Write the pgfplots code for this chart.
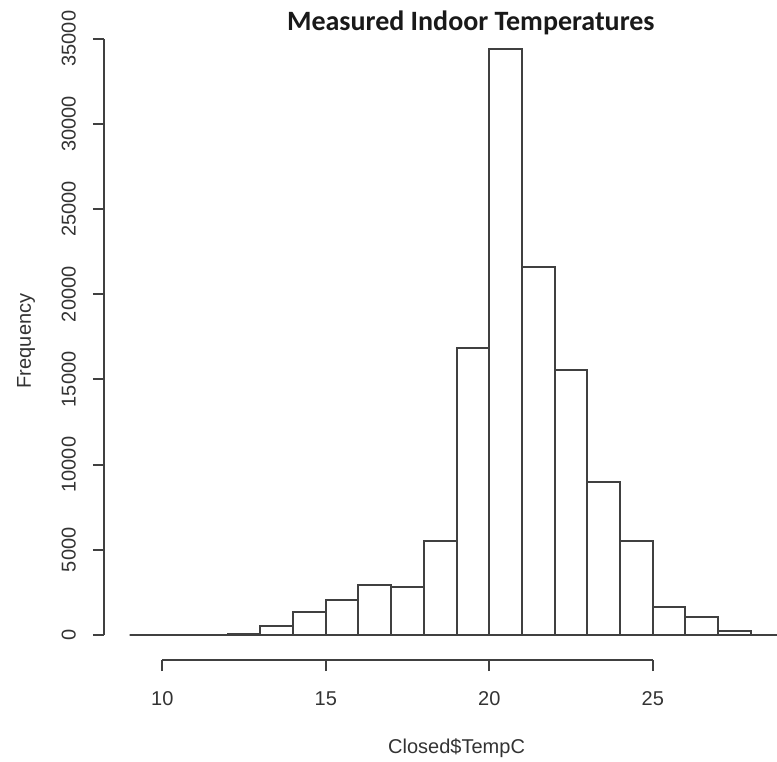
\documentclass[border=0pt]{standalone}
\usepackage{fontspec}
\setmainfont{Liberation Sans}
\newfontfamily\titlefont{Carlito}
\usepackage{pgfplots}
\pgfplotsset{compat=1.18}
\definecolor{rgray}{gray}{0.25}
\definecolor{rtext}{gray}{0.2}

\begin{document}
\begin{tikzpicture}
\useasboundingbox (0,0) rectangle (388.5pt,380.5pt);

% histogram bars (bin left edge, count); last row closes the last bin
\begin{axis}[
  at={(0pt,0pt)}, anchor=south west,
  width=388.5pt, height=380.5pt, scale only axis,
  xmin=5.037, xmax=28.8,
  ymin=-7394, ymax=37265,
  hide axis,
  title={\titlefont\bfseries Measured Indoor Temperatures},
  title style={at={(axis description cs:0.606,0.954)}, anchor=center, yshift=0pt, font=\fontsize{14}{16}\selectfont, text=black!90},
]
\addplot[ybar interval, fill=white, draw=rgray, line width=1pt] coordinates {
(9,0) (10,0) (11,0) (12,80) (13,530) (14,1370) (15,2050) (16,2930)
(17,2800) (18,5500) (19,16830) (20,34370) (21,21620) (22,15550)
(23,8960) (24,5500) (25,1640) (26,1040) (27,250) (28,0) (29,0)
};
\end{axis}

% x axis, R style
\begin{axis}[
  at={(81.15pt,50.5pt)}, anchor=south west,
  width=245.25pt, height=10pt, scale only axis,
  xmin=10, xmax=25, ymin=0, ymax=1,
  axis x line=bottom, axis y line=none,
  axis line style={-, draw=rgray, line width=1pt},
  xtick={10,15,20,25},
  tick align=outside, major tick length=5.5pt,
  tick style={draw=rgray, line width=1pt},
  xticklabel style={anchor=center, yshift=-14pt, text=rtext, font=\fontsize{10}{12}\selectfont},
  /pgf/number format/assume math mode=true,
  xlabel={Closed\$TempC},
  every axis x label/.style={at={(axis description cs:0.6,-4.4)}, anchor=center, text=rtext, font=\fontsize{10}{12}\selectfont},
]
\end{axis}

% y axis, R style
\begin{axis}[
  at={(52pt,63pt)}, anchor=south west,
  width=10pt, height=298.2pt, scale only axis,
  xmin=0, xmax=1, ymin=0, ymax=35000,
  axis y line=left, axis x line=none,
  axis line style={-, draw=rgray, line width=1pt},
  ytick={0,5000,...,35000},
  scaled y ticks=false,
  /pgf/number format/1000 sep={},
  /pgf/number format/assume math mode=true,
  tick align=outside, major tick length=5.5pt,
  tick style={draw=rgray, line width=1pt},
  yticklabel style={xshift=-5pt, rotate=90, anchor=south, text=rtext, font=\fontsize{10}{12}\selectfont},
  ylabel={Frequency},
  every axis y label/.style={at={(axis description cs:-3.9,0.493)}, rotate=90, anchor=center, text=rtext, font=\fontsize{10}{12}\selectfont},
]
\end{axis}
\end{tikzpicture}
\end{document}
